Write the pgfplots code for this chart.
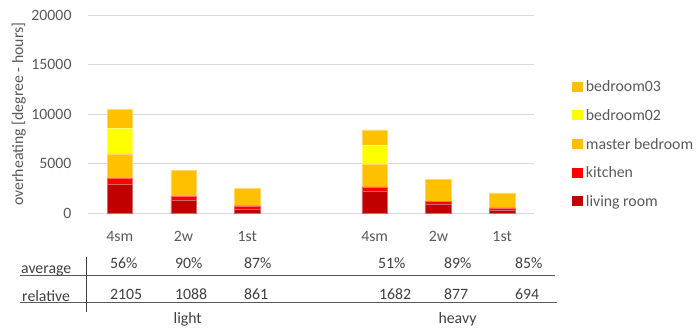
\documentclass[border=0pt]{standalone}
\usepackage{fontspec}
\setmainfont{Carlito}
\usepackage{pgfplots}
\pgfplotsset{compat=1.18}
\definecolor{lr}{HTML}{C00000}
\definecolor{kit}{HTML}{FF0000}
\definecolor{mb}{HTML}{FFC000}
\definecolor{bb}{HTML}{FFFF00}
\definecolor{bc}{HTML}{FFC000}
\definecolor{txt}{HTML}{595959}
\definecolor{ttxt}{HTML}{404040}
\definecolor{gridc}{HTML}{D9D9D9}
\begin{document}
\fontsize{15.8}{19}\selectfont
\begin{tikzpicture}[font=\fontsize{15.8}{19}\selectfont]
\path[use as bounding box] (-88pt,-116.7pt) rectangle (612pt,213.3pt);
\begin{axis}[
  at={(0pt,0pt)}, anchor=south west,
  scale only axis, width=446pt, height=198.3pt,
  xmin=-0.5, xmax=6.5, ymin=0, ymax=20000,
  ybar stacked, bar width=25.5pt,
  xtick={0,1,2,4,5,6}, xticklabels={4sm,2w,1st,4sm,2w,1st},
  ytick={0,5000,10000,15000,20000},
  axis line style={draw=none},
  major tick length=0pt,
  ymajorgrids, grid style={gridc, line width=1pt},
  scaled y ticks=false,
  /pgf/number format/assume math mode=true,
  /pgf/number format/1000 sep={},
  tick label style={text=txt},
  yticklabel style={anchor=east, inner sep=0pt, xshift=-16.3pt},
  xticklabel style={anchor=base, inner sep=0pt, yshift=-27.7pt},
  ylabel={overheating [degree - hours]},
  ylabel style={at={(axis description cs:-0.155,0.5)}, anchor=center, text=txt},
  reverse legend,
  legend style={at={(axis description cs:1.0859,0.6636)}, anchor=north west,
    draw=none, fill=none, inner sep=0pt, outer sep=0pt, row sep=18.6pt, text=txt,
    nodes={inner sep=0pt, anchor=base west, text height=10pt, text depth=0pt},
    /tikz/every odd column/.append style={column sep=3.6pt}},
  clip=false,
]
\addplot[fill=lr, draw=lr!60!white, line width=0.5pt,
  legend image code/.code={\fill[lr] (0pt,0.8pt) rectangle (9.5pt,9.8pt);}]
  coordinates {(0,2925) (1,1270) (2,400) (4,2180) (5,905) (6,300)};
\addlegendentry{living room}
\addplot[fill=kit, draw=kit!60!white, line width=0.5pt,
  legend image code/.code={\fill[kit] (0pt,0.8pt) rectangle (9.5pt,9.8pt);}]
  coordinates {(0,600) (1,405) (2,340) (4,475) (5,335) (6,235)};
\addlegendentry{kitchen}
\addplot[fill=mb, draw=mb!60!white, line width=0.5pt,
  legend image code/.code={\fill[mb] (0pt,0.8pt) rectangle (9.5pt,9.8pt);}]
  coordinates {(0,2480) (1,2625) (2,1780) (4,2250) (5,2190) (6,1515)};
\addlegendentry{master bedroom}
\addplot[fill=bb, draw=bb!60!white, line width=0.5pt,
  legend image code/.code={\fill[bb] (0pt,0.8pt) rectangle (9.5pt,9.8pt);}]
  coordinates {(0,2590) (1,0) (2,0) (4,1985) (5,0) (6,0)};
\addlegendentry{bedroom02}
\addplot[fill=bc, draw=bc!60!white, line width=0.5pt,
  legend image code/.code={\fill[bc] (0pt,0.8pt) rectangle (9.5pt,9.8pt);}]
  coordinates {(0,1890) (1,0) (2,0) (4,1515) (5,0) (6,0)};
\addlegendentry{bedroom03}
\end{axis}
% table below the chart
\draw[txt, line width=0.8pt] (-68pt,-62.4pt) -- (467pt,-62.4pt);
\draw[txt, line width=0.8pt] (-68pt,-89.4pt) -- (469pt,-89.4pt);
\draw[ttxt, line width=0.8pt] (-2pt,-43.4pt) -- (-2pt,-98.4pt);
\begin{scope}[every node/.style={inner sep=0pt, text=ttxt, anchor=base west}]
\node at (-67pt,-59.7pt) {average};
\node at (-66pt,-87.7pt) {relative};
\node at (22pt,-54.7pt) {56\%};
\node at (87pt,-54.7pt) {90\%};
\node at (156pt,-54.7pt) {87\%};
\node at (290pt,-54.7pt) {51\%};
\node at (356pt,-54.7pt) {89\%};
\node at (427pt,-54.7pt) {85\%};
\node at (22pt,-85.7pt) {2105};
\node at (87pt,-85.7pt) {1088};
\node at (156pt,-85.7pt) {861};
\node at (291pt,-85.7pt) {1682};
\node at (356pt,-85.7pt) {877};
\node at (427pt,-85.7pt) {694};
\node[anchor=base] at (99.7pt,-109.7pt) {light};
\node[anchor=base] at (369.5pt,-109.7pt) {heavy};
\end{scope}
\end{tikzpicture}
\end{document}
